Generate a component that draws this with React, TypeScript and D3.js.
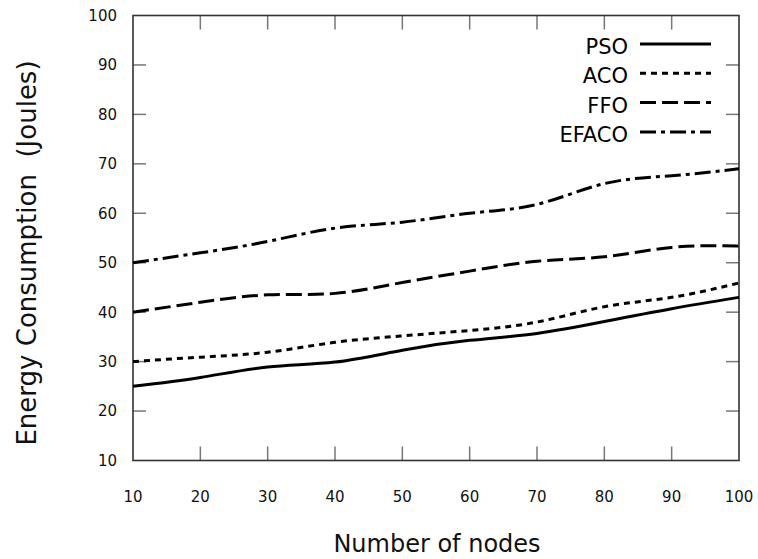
import React from "react";
import * as d3 from "d3";

const nodes = [10, 20, 30, 40, 50, 60, 70, 80, 90, 100];
const pso = [25, 26.8, 28.9, 29.9, 32.3, 34.3, 35.7, 38.1, 40.7, 43];
const aco = [30, 30.9, 31.9, 33.9, 35.2, 36.3, 38, 41.1, 43, 45.9];
const ffo = [40, 42, 43.5, 43.8, 46, 48.3, 50.3, 51.2, 53.1, 53.4];
const efaco = [50, 52, 54.3, 57, 58.2, 60, 61.8, 66, 67.6, 69];
const yTicks = [10, 20, 30, 40, 50, 60, 70, 80, 90, 100];

const series = [
  { name: "PSO", values: pso, dash: "" },
  { name: "ACO", values: aco, dash: "6,5" },
  { name: "FFO", values: ffo, dash: "16,6" },
  { name: "EFACO", values: efaco, dash: "16,5,4,5" },
];

const W = 758;
const H = 559;
const left = 133, right = 739, top = 15.5, bottom = 460.5;
const font = "'DejaVu Sans', sans-serif";

export default function App() {
  const x = d3.scaleLinear().domain([10, 100]).range([left, right]);
  const y = d3.scaleLinear().domain([10, 100]).range([bottom, top]);

  const line = d3
    .line<number>()
    .x((_, i) => x(nodes[i]))
    .y((d) => y(d))
    .curve(d3.curveNatural);

  return (
    <svg width={W} height={H} style={{ position: "absolute", left: 0, top: 0, background: "#fff" }}>
      {/* ticks, inward on all four sides */}
      {yTicks.slice(1, -1).map((t) => (
        <g key={"y" + t} stroke="#777" strokeWidth={1.5}>
          <line x1={left} x2={left + 13} y1={y(t)} y2={y(t)} />
          <line x1={right} x2={right - 13} y1={y(t)} y2={y(t)} />
        </g>
      ))}
      {nodes.slice(1, -1).map((t) => (
        <g key={"x" + t} stroke="#777" strokeWidth={1.5}>
          <line x1={x(t)} x2={x(t)} y1={bottom} y2={bottom - 14} />
          <line x1={x(t)} x2={x(t)} y1={top} y2={top + 14} />
        </g>
      ))}
      <rect x={left} y={top} width={right - left} height={bottom - top} fill="none" stroke="#333" strokeWidth={1.6} />

      {yTicks.map((t) => (
        <text key={"yl" + t} x={117} y={y(t)} dy="0.36em" textAnchor="end" fontFamily={font} fontSize={15} fill="#111">
          {t}
        </text>
      ))}
      {nodes.map((t) => (
        <text key={"xl" + t} x={x(t)} y={502} textAnchor="middle" fontFamily={font} fontSize={15} fill="#111">
          {t}
        </text>
      ))}

      {series.map((s) => (
        <path key={s.name} d={line(s.values) || ""} fill="none" stroke="#000" strokeWidth={3} strokeDasharray={s.dash} />
      ))}

      {series.map((s, i) => {
        const by = 54 + i * 29.3;
        return (
          <g key={"lg" + s.name}>
            <text x={628} y={by} textAnchor="end" fontFamily={font} fontSize={21} fill="#000">
              {s.name}
            </text>
            <line x1={640} x2={711} y1={by - 10} y2={by - 10} stroke="#000" strokeWidth={3} strokeDasharray={s.dash} />
          </g>
        );
      })}

      <text x={437} y={552} textAnchor="middle" fontFamily={font} fontSize={24} fill="#111">
        Number of nodes
      </text>
      <text
        transform={`translate(36, ${(top + bottom) / 2 + 15}) rotate(-90)`}
        textAnchor="middle"
        fontFamily={font}
        fontSize={26}
        fill="#111"
        style={{ whiteSpace: "pre" }}
      >
        Energy Consumption  (Joules)
      </text>
    </svg>
  );
}
